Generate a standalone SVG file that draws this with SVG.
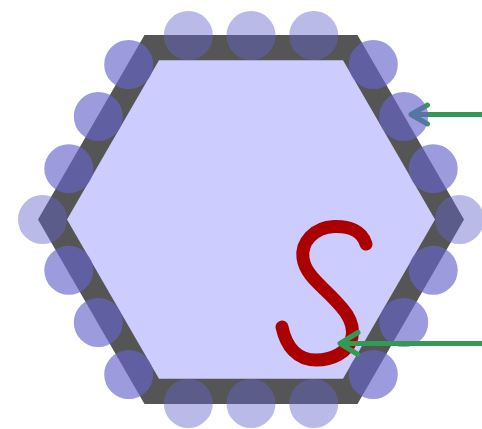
<svg xmlns="http://www.w3.org/2000/svg" width="482" height="429" viewBox="0 0 482 429">
<style>
.outer{fill:#555555}
.inner{fill:#ccccff}
.c1{fill:#6666cc;fill-opacity:0.45}
.c2{fill:#6666cc;fill-opacity:0.65}
.arrow{fill:none;stroke:#339955;stroke-width:5;stroke-linecap:round;stroke-linejoin:round}
.s{fill:none;stroke:#aa0000;stroke-width:13;stroke-linecap:round;stroke-linejoin:round}
</style>
<rect width="482" height="429" fill="#ffffff"/>
<g id="hexagon">
<polygon class="outer" points="144.5,35 357.5,35 464,219.5 357.5,404 144.5,404 38,219.5"/>
<polygon class="inner" points="159,60.2 343,60.2 435,219.5 343,378.8 159,378.8 67,219.5"/>
</g>
<g id="connector-top">
<path class="arrow" d="M482,114.5 H413"/>
<path class="arrow" d="M427.5,105 L411,114.5 L427.5,124"/>
</g>
<g id="beads">
<circle class="c1" cx="188.3" cy="35.5" r="24.5"/>
<circle class="c1" cx="251" cy="35.5" r="24.5"/>
<circle class="c1" cx="313.7" cy="35.5" r="24.5"/>
<circle class="c1" cx="188.3" cy="403.5" r="24.5"/>
<circle class="c1" cx="251" cy="403.5" r="24.5"/>
<circle class="c1" cx="313.7" cy="403.5" r="24.5"/>
<circle class="c1" cx="42.5" cy="219.5" r="24.5"/>
<circle class="c1" cx="459.5" cy="219.5" r="24.5"/>
<circle class="c2" cx="128.7" cy="64.5" r="24.5"/>
<circle class="c2" cx="98.3" cy="116.5" r="24.5"/>
<circle class="c2" cx="68.8" cy="168.7" r="24.5"/>
<circle class="c2" cx="68.8" cy="270.3" r="24.5"/>
<circle class="c2" cx="98.3" cy="322.5" r="24.5"/>
<circle class="c2" cx="128.7" cy="374.5" r="24.5"/>
<circle class="c2" cx="373.3" cy="64.5" r="24.5"/>
<circle class="c2" cx="403.7" cy="116.5" r="24.5"/>
<circle class="c2" cx="433.2" cy="168.7" r="24.5"/>
<circle class="c2" cx="433.2" cy="270.3" r="24.5"/>
<circle class="c2" cx="403.7" cy="322.5" r="24.5"/>
<circle class="c2" cx="373.3" cy="374.5" r="24.5"/>
</g>
<g id="s-curve">
<path class="s" d="M366,244 C362,230 348,226 334,226.5 C314,227.5 301,242 303,258 C305,273 318,283 330,295 C344,309 355,321 352,337 C349,353 331,360 316,360 C297,360 286,346 282,327"/>
</g>
<g id="connector-bottom">
<path class="arrow" d="M482,343.5 H342"/>
<path class="arrow" d="M358,332.5 L340,343.5 L358,354.5"/>
</g>
</svg>
